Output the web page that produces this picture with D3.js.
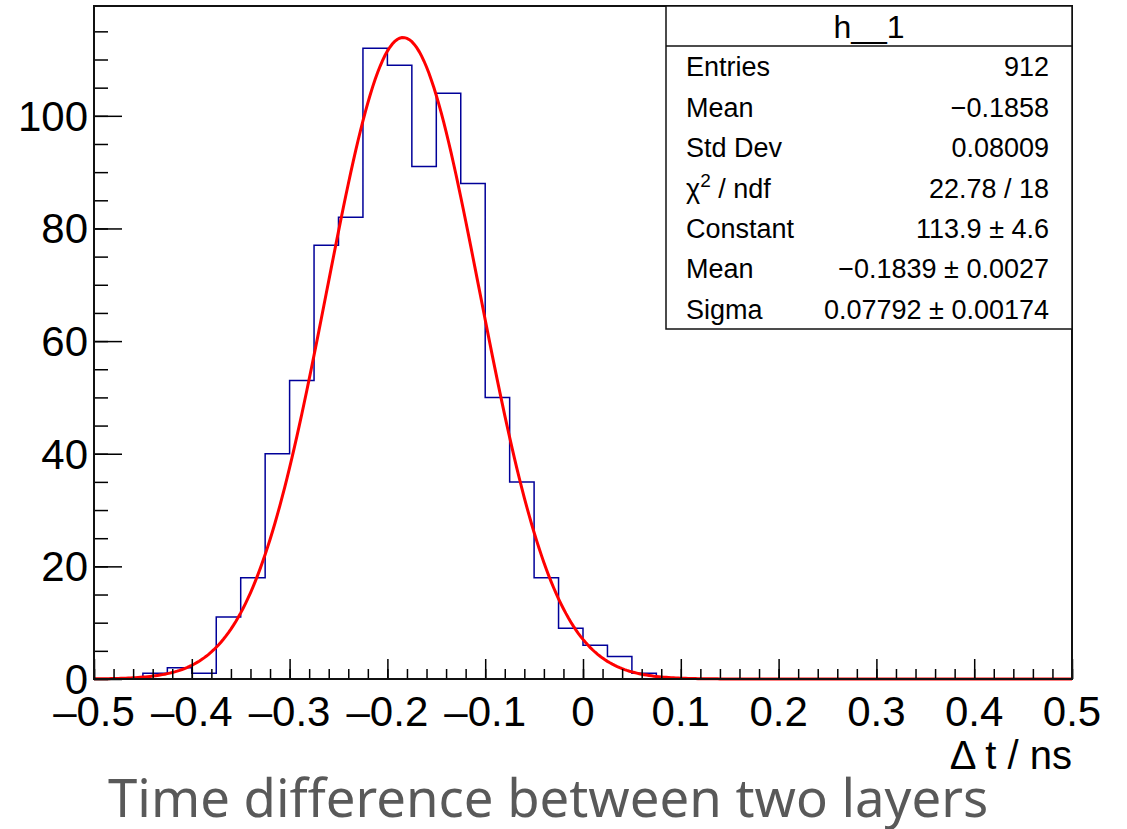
<!DOCTYPE html>
<html>
<head>
<meta charset="utf-8">
<script src="https://cdn.jsdelivr.net/npm/d3@7"></script>
<style>
  body { margin: 0; background: #fff; }
  svg { display: block; }
</style>
</head>
<body>
<div id="chart"></div>
<script>
// histogram h__1 : 40 bins from -0.5 to 0.5
var xRange = [-0.5, 0.5];
var binCounts = [0, 0, 1, 2, 1, 11, 18, 40, 53, 77,
                 82, 112, 109, 91, 104, 88, 50, 35, 18, 9,
                 6, 4, 1, 0, 0, 0, 0, 0, 0, 0,
                 0, 0, 0, 0, 0, 0, 0, 0, 0, 0];
var yMax = 119.5;

// gaus fit result (Constant, Mean, Sigma)
var fitParams = [113.9, -0.1839, 0.07792];

var xTickValues = [-0.5, -0.4, -0.3, -0.2, -0.1, 0, 0.1, 0.2, 0.3, 0.4, 0.5];
var yTickValues = [0, 20, 40, 60, 80, 100];

var statLabels = ["Entries", "Mean", "Std Dev", "chi2", "Constant", "Mean", "Sigma"];
var statValues = ["912", "\u22120.1858", "0.08009", "22.78 / 18", "113.9 \u00b1 4.6",
                  "\u22120.1839 \u00b1 0.0027", "0.07792 \u00b1 0.00174"];

var W = 1127, H = 829;
var margin = {top: 6, right: 55, bottom: 150, left: 94};
var width = W - margin.left - margin.right,
    height = H - margin.top - margin.bottom;

var svg = d3.select("#chart").append("svg")
    .attr("width", W).attr("height", H);

var g = svg.append("g")
    .attr("transform", "translate(" + margin.left + "," + margin.top + ")");

var x = d3.scaleLinear().domain(xRange).range([0, width]);
var y = d3.scaleLinear().domain([0, yMax]).range([height, 0]);

var binWidth = (xRange[1] - xRange[0]) / binCounts.length;

// histogram outline as steps
var steps = [];
binCounts.forEach(function(c, i){
    var lo = xRange[0] + i * binWidth;
    steps.push([lo, c]);
    steps.push([lo + binWidth, c]);
});
g.append("path")
    .datum(steps)
    .attr("fill", "none")
    .attr("stroke", "#000099")
    .attr("stroke-width", 1.5)
    .attr("d", d3.line()
        .x(function(d){ return x(d[0]); })
        .y(function(d){ return y(d[1]); }));

// fitted gaussian
var fitPts = d3.range(0, 401).map(function(k){
    var xv = xRange[0] + k * (xRange[1] - xRange[0]) / 400;
    var z = (xv - fitParams[1]) / fitParams[2];
    return [xv, fitParams[0] * Math.exp(-0.5 * z * z)];
});
g.append("path")
    .datum(fitPts)
    .attr("fill", "none")
    .attr("stroke", "#ff0000")
    .attr("stroke-width", 3)
    .attr("d", d3.line()
        .x(function(d){ return x(d[0]); })
        .y(function(d){ return y(d[1]); }));

// axes: ticks pointing inside the frame
var tickFont = "'Liberation Sans', Arial, Helvetica, sans-serif";

var xMinor = g.append("g").attr("transform", "translate(0," + height + ")")
    .call(d3.axisTop(x).tickValues(d3.range(-0.5, 0.5001, 0.02)).tickSize(10).tickFormat(""));
var xMajor = g.append("g").attr("transform", "translate(0," + height + ")")
    .call(d3.axisTop(x).tickValues(xTickValues).tickSize(20).tickFormat(""));
var yMinor = g.append("g")
    .call(d3.axisRight(y).tickValues(d3.range(0, 119, 5)).tickSize(14).tickFormat(""));
var yMajor = g.append("g")
    .call(d3.axisRight(y).tickValues(yTickValues).tickSize(28).tickFormat(""));

[xMinor, xMajor, yMinor, yMajor].forEach(function(a){
    a.select(".domain").remove();
    a.selectAll("line").attr("stroke", "#000").attr("stroke-width", 1.5);
});

// tick labels
g.selectAll(".xlab").data(xTickValues).enter().append("text")
    .attr("x", function(d){ return x(d); })
    .attr("y", height + 47)
    .attr("text-anchor", "middle")
    .style("font-family", tickFont).style("font-size", "42px")
    .text(function(d){ return d === 0 ? "0" : (d < 0 ? "\u2013" : "") + Math.abs(d).toFixed(1); });

g.selectAll(".ylab").data(yTickValues).enter().append("text")
    .attr("x", -6)
    .attr("y", function(d){ return y(d) + 15; })
    .attr("text-anchor", "end")
    .style("font-family", tickFont).style("font-size", "42px")
    .text(function(d){ return d; });

// frame
g.append("rect")
    .attr("x", 0).attr("y", 0).attr("width", width).attr("height", height)
    .attr("fill", "none").attr("stroke", "#111").attr("stroke-width", 2);

// axis title
g.append("text")
    .attr("x", width).attr("y", height + 90)
    .attr("text-anchor", "end")
    .style("font-family", tickFont).style("font-size", "40px")
    .text("\u0394 t / ns");

// stats box
var box = {x0: 666, y0: 6, x1: 1072, y1: 329, sep: 46};
var sb = svg.append("g");
sb.append("rect")
    .attr("x", box.x0).attr("y", box.y0)
    .attr("width", box.x1 - box.x0).attr("height", box.y1 - box.y0)
    .attr("fill", "#fff").attr("stroke", "#111").attr("stroke-width", 1.5);
sb.append("line")
    .attr("x1", box.x0).attr("x2", box.x1).attr("y1", box.sep).attr("y2", box.sep)
    .attr("stroke", "#111").attr("stroke-width", 1.5);
sb.append("text")
    .attr("x", (box.x0 + box.x1) / 2).attr("y", 38)
    .attr("text-anchor", "middle")
    .style("font-family", tickFont).style("font-size", "32px")
    .text("h__1");

var rowH = (box.y1 - box.sep) / statLabels.length;
statLabels.forEach(function(lab, i){
    var yy = box.sep + rowH * (i + 0.5) + 10;
    var t = sb.append("text")
        .attr("x", 686).attr("y", yy)
        .style("font-family", tickFont).style("font-size", "27px");
    if (lab === "chi2") {
        t.append("tspan").text("\u03c7");
        t.append("tspan").attr("dy", -11).style("font-size", "19px").text("2");
        t.append("tspan").attr("dy", 11).text(" / ndf");
    } else {
        t.text(lab);
    }
    sb.append("text")
        .attr("x", 1049).attr("y", yy)
        .attr("text-anchor", "end")
        .style("font-family", tickFont).style("font-size", "27px")
        .text(statValues[i]);
});

// caption under the plot
var cap = svg.append("text")
    .attr("x", 108).attr("y", 817)
    .style("font-family", "'Noto Sans', 'Open Sans', sans-serif")
    .style("font-size", "48px")
    .attr("fill", "#595959")
    .text("Time difference between two layers");
var capW = cap.node().getComputedTextLength();
cap.style("font-size", (48 * 880 / capW).toFixed(1) + "px");
</script>
</body>
</html>
